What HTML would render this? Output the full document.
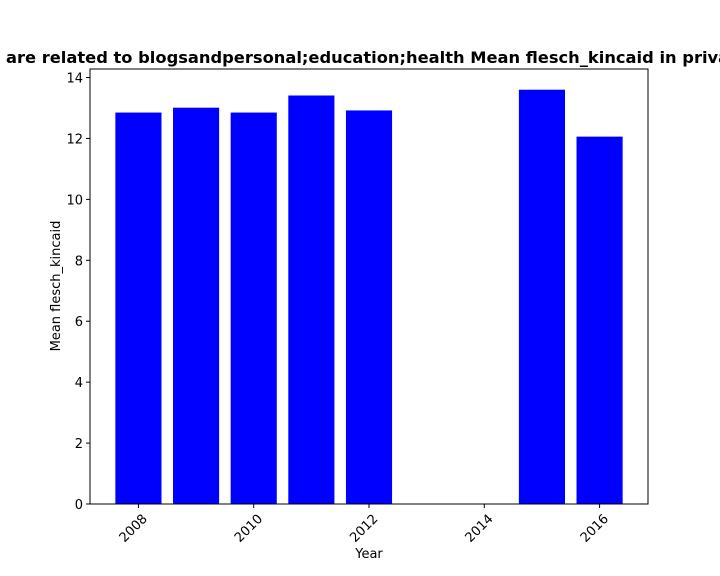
<!DOCTYPE html>
<html><head><meta charset="utf-8"><style>
html,body{margin:0;padding:0;background:#fff;overflow:hidden;}
svg{display:block;font-family:"DejaVu Sans","Liberation Sans",sans-serif;}
</style></head><body>
<svg id="chart" width="720" height="576">
<text x="6" y="63" font-size="16.3" font-weight="bold" fill="#000">are related to blogsandpersonal;education;health Mean flesch_kincaid in private schools</text>
<g id="bars"></g>
<rect x="90" y="69" width="558" height="435" fill="none" stroke="#000" stroke-width="1"/>
<g id="axes" font-size="13" fill="#000"></g>
<text x="369" y="558" font-size="13" text-anchor="middle">Year</text>
<text transform="translate(60,286) rotate(-90)" font-size="13" text-anchor="middle">Mean flesch_kincaid</text>
</svg>
<script>
const years = [2008, 2009, 2010, 2011, 2012, 2015, 2016];
const values = [12.85, 13.01, 12.85, 13.41, 12.92, 13.6, 12.06];
const xTicks = [2008, 2010, 2012, 2014, 2016];
const yTicks = [0, 2, 4, 6, 8, 10, 12, 14];

const L = 90, R = 648, T = 69, B = 504;
const xMin = 2007.16, xMax = 2016.84;
const yMax = Math.max(...values) * 1.05;
const xs = v => L + (v - xMin) / (xMax - xMin) * (R - L);
const ys = v => B - v / yMax * (B - T);
const NS = "http://www.w3.org/2000/svg";
const bars = document.getElementById('bars');
const axes = document.getElementById('axes');
const bw = 0.8 * (R - L) / (xMax - xMin);

years.forEach((y, i) => {
  const r = document.createElementNS(NS, 'rect');
  r.setAttribute('x', xs(y) - bw / 2);
  r.setAttribute('y', ys(values[i]));
  r.setAttribute('width', bw);
  r.setAttribute('height', B - ys(values[i]));
  r.setAttribute('fill', '#0000ff');
  
  
  bars.appendChild(r);
});

xTicks.forEach(t => {
  const x = xs(t);
  const l = document.createElementNS(NS, 'line');
  l.setAttribute('x1', x); l.setAttribute('x2', x);
  l.setAttribute('y1', B); l.setAttribute('y2', B + 4);
  l.setAttribute('stroke', '#000');
  
  
  axes.appendChild(l);
  const tx = document.createElementNS(NS, 'text');
  tx.setAttribute('transform', `translate(${x + 7},${B + 13}) rotate(-45)`);
  tx.setAttribute('text-anchor', 'end');
  tx.setAttribute('dominant-baseline', 'middle');
  tx.textContent = t;
  
  
  axes.appendChild(tx);
});

yTicks.forEach(t => {
  const y = ys(t);
  const l = document.createElementNS(NS, 'line');
  l.setAttribute('x1', L - 4); l.setAttribute('x2', L);
  l.setAttribute('y1', y); l.setAttribute('y2', y);
  l.setAttribute('stroke', '#000');
  
  
  axes.appendChild(l);
  const tx = document.createElementNS(NS, 'text');
  tx.setAttribute('x', L - 7);
  tx.setAttribute('y', y + 5);
  tx.setAttribute('text-anchor', 'end');
  tx.textContent = t;
  
  
  axes.appendChild(tx);
});
</script>
</body></html>
